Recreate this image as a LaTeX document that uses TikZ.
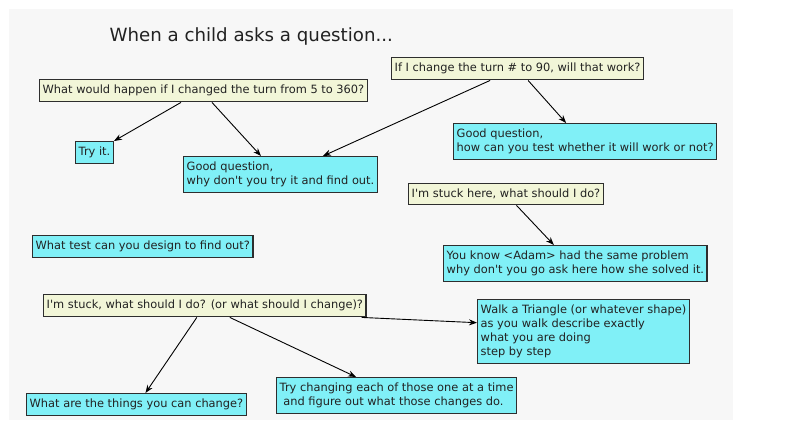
\documentclass[tikz,border=0pt]{standalone}
\usepackage{fontspec}
\newfontfamily\dejavu{DejaVu Sans}
\usetikzlibrary{arrows.meta}
\definecolor{pagegray}{HTML}{F7F7F7}
\definecolor{boxline}{HTML}{2E2E2E}
\definecolor{qyellow}{HTML}{F2F6D8}
\definecolor{acyan}{HTML}{80F0F7}
\definecolor{inktext}{HTML}{222222}
\begin{document}
\begin{tikzpicture}[x=1pt,y=-1pt]

\tikzstyle{qnode} = [anchor=north west,draw=boxline,line width=1.4pt,fill=qyellow,text=inktext,inner xsep=3pt,inner ysep=5.5pt,align=left,font=\dejavu\fontsize{11.4}{14}\selectfont];
\tikzstyle{anode} = [qnode,fill=acyan];
\tikzstyle{link} = [-{Stealth[length=8pt,width=6pt]},line width=0.9pt];

\useasboundingbox (0,0) rectangle (808,438);
\fill [pagegray] (9,9) rectangle (733,420);

\node [anchor=base west,text=inktext,font=\dejavu\fontsize{18.2}{21}\selectfont] (title) at (106,42) {When a child asks a question...};

\node [qnode] (q1) at (39,79) {What would happen if I changed the turn from 5 to 360?};
\node [qnode] (q2) at (391,57) {If I change the turn \# to 90, will that work?};
\node [anode] (a2) at (453,123) {Good question,\\how can you test whether it will work or not?};
\node [anode] (tryit) at (75,141) {Try it.};
\node [anode] (a1) at (183,156) {Good question,\\why don't you try it and find out.};
\node [anode] (design) at (32,235) {What test can you design to find out?};
\node [qnode] (q3) at (408,183) {I'm stuck here, what should I do?};
\node [anode] (adam) at (443,245) {You know <Adam> had the same problem\\why don't you go ask here how she solved it.};
\node [qnode] (q4) at (43,294) {I'm stuck, what should I do? (or what should I change)?};
\node [anode] (walk) at (477,299) {Walk a Triangle (or whatever shape)\\as you walk describe exactly\\what you are doing\\step by step};
\node [anode] (things) at (26,393) {What are the things you can change?};
\node [anode] (each) at (276,377) {Try changing each of those one at a time\\\ and figure out what those changes do.};

\draw [link] ([xshift=-22.5pt]q1.south) -- (tryit.north east);
\draw [link] ([xshift=8.5pt]q1.south) -- ([xshift=-19.5pt]a1.north);
\draw [link] ([xshift=-27.5pt]q2.south) -- ([xshift=42.5pt]a1.north);
\draw [link] ([xshift=10.5pt]q2.south) -- ([xshift=-19pt]a2.north);
\draw [link] ([xshift=10.5pt]q3.south) -- ([xshift=-21.5pt]adam.north);
\draw [link] ([xshift=-8pt]q4.south) -- ([xshift=9pt]things.north);
\draw [link] ([xshift=25pt]q4.south) -- ([xshift=-40.5pt]each.north);
\draw [link] ([xshift=-5pt]q4.south east) -- ([yshift=9pt]walk.west);

\end{tikzpicture}
\end{document}
